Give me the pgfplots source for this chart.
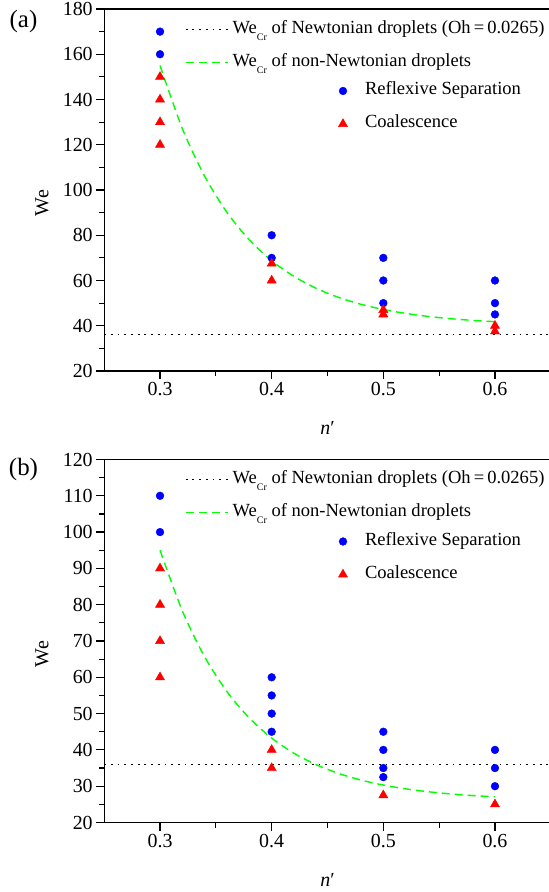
\documentclass[border=0pt]{standalone}
\usepackage{fontspec}
\setmainfont{Liberation Serif}
\usepackage{pgfplots}
\pgfplotsset{compat=1.18}

\definecolor{myblue}{RGB}{0,0,255}
\definecolor{myred}{RGB}{255,0,0}
\definecolor{mygreen}{RGB}{0,255,0}

\newcommand{\Wecr}{We\raisebox{-7bp}{\fontsize{10}{10}\selectfont Cr}}

\pgfplotsset{
  panel/.style={
    scale only axis, anchor=south west, width=446.6bp,
    xmin=0.25, xmax=0.65, xtick={0.3,0.4,0.5,0.6}, minor x tick num=1,
    minor y tick num=1,
    tick align=outside, xtick pos=lower, ytick pos=left,
    major tick length=8bp, minor tick length=5bp,
    axis line style={line width=1.2bp},
    tick style={line width=1.2bp, black},
    tick label style={font=\fontsize{20}{24}\selectfont},
    /pgf/number format/assume math mode=true,
    xticklabel style={/pgf/number format/fixed, /pgf/number format/fixed zerofill, /pgf/number format/precision=1},
    xlabel={\textit{n}′}, ylabel={We},
    label style={font=\fontsize{20}{24}\selectfont},
    xlabel style={at={(axis description cs:0.5,0)}, anchor=center, yshift=-57bp},
    ylabel style={at={(axis description cs:-0.1393,0.464)}, anchor=center},
    legend cell align=left,
    legend style={draw=none, fill=none, inner sep=0pt, outer sep=0pt,
      at={(axis description cs:0,1)}, anchor=north west,
      row sep=15bp, font=\fontsize{18.6}{22}\selectfont,
      nodes={inner sep=0pt, text height=13bp, text depth=5bp}},
  },
  lineleg/.style={
    legend image code/.code={\draw[##1] (0bp,0bp) -- (42bp,0bp); \path[draw=none,fill=none] (0bp,-5bp) rectangle (47bp,5bp);},
    legend style={xshift=80.8bp, yshift=-11.3bp},
  },
  markleg/.style={
    hide axis, ymin=0, ymax=1,
    legend style={xshift=233.8bp, yshift=-73bp},
  },
  newt/.style={black, line width=1.4bp, dash pattern=on 1.8bp off 4.9bp},
  nonnewt/.style={mygreen, line width=1.4bp, dash pattern=on 8bp off 5bp},
  sep/.style={only marks, mark=*, mark size=3.9bp, color=myblue, fill=myblue},
  coal/.style={only marks, mark=triangle*, mark size=5.3bp, color=myred, fill=myred},
  markimg/.style={legend image code/.code={\draw[##1] plot coordinates {(0bp,0bp)}; \path[draw=none,fill=none] (-5bp,-5bp) rectangle (22bp,5bp);}},
}

\begin{document}
\begin{tikzpicture}
\path[use as bounding box] (0,0) rectangle (549bp,892bp);

% ---------- panel (a) ----------
\begin{axis}[panel, lineleg, at={(104.2bp,521bp)}, height=362bp,
  ymin=20, ymax=180, ytick={20,40,...,180}]
\addplot[newt] coordinates {(0.25,36) (0.65,36)};
\addlegendentry{\Wecr\ of Newtonian droplets (Oh\,=\,0.0265)}
\addplot[nonnewt, smooth] coordinates {
(0.30,155) (0.32,127.15) (0.34,106.05) (0.36,90.06) (0.38,77.94) (0.40,68.75)
(0.42,61.79) (0.44,56.51) (0.46,52.51) (0.48,49.48) (0.50,47.19) (0.52,45.45)
(0.54,44.13) (0.56,43.13) (0.58,42.37) (0.60,41.80)};
\addlegendentry{\Wecr\ of non-Newtonian droplets}
\addplot[sep, forget plot] coordinates {
(0.3,170) (0.3,160) (0.4,80) (0.4,70) (0.5,70) (0.5,60) (0.5,50)
(0.6,60) (0.6,50) (0.6,45)};
\addplot[coal, forget plot] coordinates {
(0.3,150) (0.3,140) (0.3,130) (0.3,120) (0.4,67.5) (0.4,60)
(0.5,47) (0.5,45) (0.6,40) (0.6,37.5)};
\end{axis}
\begin{axis}[panel, markleg, at={(104.2bp,521bp)}, height=362bp]
\addlegendimage{sep, markimg}
\addlegendentry{Reflexive Separation}
\addlegendimage{coal, markimg}
\addlegendentry{Coalescence}
\end{axis}

% ---------- panel (b) ----------
\begin{axis}[panel, lineleg, at={(104.2bp,69.5bp)}, height=363bp,
  ymin=20, ymax=120, ytick={20,30,...,120}]
\addplot[newt] coordinates {(0.25,36) (0.65,36)};
\addlegendentry{\Wecr\ of Newtonian droplets (Oh\,=\,0.0265)}
\addplot[nonnewt, smooth] coordinates {
(0.30,95) (0.32,78.29) (0.34,65.63) (0.36,56.03) (0.38,48.76) (0.40,43.25)
(0.42,39.07) (0.44,35.91) (0.46,33.51) (0.48,31.69) (0.50,30.31) (0.52,29.27)
(0.54,28.48) (0.56,27.88) (0.58,27.42) (0.60,27.08)};
\addlegendentry{\Wecr\ of non-Newtonian droplets}
\addplot[sep, forget plot] coordinates {
(0.3,110) (0.3,100) (0.4,60) (0.4,55) (0.4,50) (0.4,45)
(0.5,45) (0.5,40) (0.5,35) (0.5,32.5) (0.6,40) (0.6,35) (0.6,30)};
\addplot[coal, forget plot] coordinates {
(0.3,90) (0.3,80) (0.3,70) (0.3,60) (0.4,40) (0.4,35) (0.5,27.5) (0.6,25)};
\end{axis}
\begin{axis}[panel, markleg, at={(104.2bp,69.5bp)}, height=363bp]
\addlegendimage{sep, markimg}
\addlegendentry{Reflexive Separation}
\addlegendimage{coal, markimg}
\addlegendentry{Coalescence}
\end{axis}

\node[font=\fontsize{25}{30}\selectfont] at (23.5bp,870.5bp) {(a)};
\node[font=\fontsize{25}{30}\selectfont] at (23.5bp,422.5bp) {(b)};
\end{tikzpicture}
\end{document}
